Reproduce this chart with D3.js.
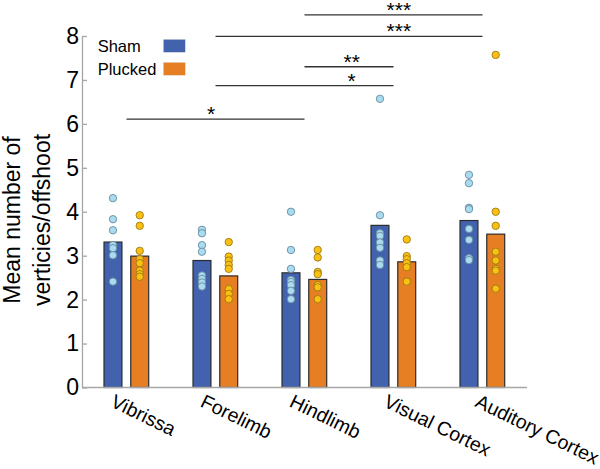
<!DOCTYPE html>
<html>
<head>
<meta charset="utf-8">
<script src="https://cdn.jsdelivr.net/npm/d3@7"></script>
<style>
  body { margin: 0; background: #fff; }
  svg { display: block; font-family: Arial, "Liberation Sans", sans-serif; }
</style>
</head>
<body>
<svg id="chart" width="600" height="469"></svg>
<script>
// categories and groups
var regions = ['Vibrissa', 'Forelimb', 'Hindlimb', 'Visual Cortex', 'Auditory Cortex'];
var groups = ['Sham', 'Plucked'];

// bar heights (group means)
var shamMeans = [3.31, 2.89, 2.61, 3.69, 3.80];
var pluckedMeans = [2.99, 2.54, 2.46, 2.86, 3.49];

// individual animals
var shamPoints = [
    [4.31, 3.83, 3.58, 3.24, 3.17, 3.01, 2.41],
    [3.59, 3.51, 3.24, 3.09, 2.55, 2.47, 2.39, 2.30],
    [4.00, 3.13, 2.70, 2.45, 2.40, 2.33, 2.20, 2.01],
    [6.57, 3.92, 3.51, 3.45, 3.30, 3.18, 2.89, 2.79],
    [4.84, 4.65, 4.09, 4.06, 3.61, 3.36, 2.94, 2.90]
];
var pluckedPoints = [
    [3.92, 3.68, 3.11, 2.92, 2.83, 2.66, 2.58, 2.52],
    [3.31, 2.98, 2.89, 2.79, 2.70, 2.24, 2.13, 2.01],
    [3.13, 2.96, 2.63, 2.58, 2.33, 2.28, 2.01],
    [3.37, 2.99, 2.92, 2.83, 2.74, 2.41],
    [7.57, 4.00, 3.68, 3.09, 2.89, 2.70, 2.66, 2.25]
];

// significance brackets: from / to region, star label, height in y units, label position (region index)
var comparisons = [
    { from: 2, to: 4, label: '***', level: 8.48, at: 3.06 },
    { from: 1, to: 4, label: '***', level: 7.99, at: 3.06 },
    { from: 2, to: 3, label: '**',  level: 7.30, at: 2.53 },
    { from: 1, to: 3, label: '*',   level: 6.87, at: 2.53 },
    { from: 0, to: 2, label: '*',   level: 6.11, at: 0.95 }
];

var yTicks = [0, 1, 2, 3, 4, 5, 6, 7, 8];

var colors = { Sham: '#4262ae', Plucked: '#e67f24' };
var dotColors = { Sham: '#a9dcf1', Plucked: '#fcc013' };
var dotStroke = { Sham: '#6a8a9c', Plucked: '#9a7a10' };

var svg = d3.select('#chart');

var x = d3.scaleBand().domain(regions).range([82, 527]);
var xSub = d3.scaleBand().domain(groups).range([22, 66.7]).paddingInner(0.33);
var y = d3.scaleLinear().domain([0, 8]).range([387.5, 36]);

function center(i) {
    return x(regions[0]) + x.step() * (i + 0.5);
}

// y axis, ticks pointing inward
var yAxis = svg.append('g')
    .attr('transform', 'translate(82,0)')
    .call(d3.axisLeft(y).tickValues(yTicks).tickSizeInner(-5).tickSizeOuter(0).tickPadding(3));
yAxis.select('.domain').attr('stroke', '#a6a6a6').attr('stroke-width', 1.3);
yAxis.selectAll('.tick line').attr('stroke', '#a6a6a6').attr('stroke-width', 1.3);
yAxis.selectAll('.tick text')
    .attr('font-size', 23)
    .attr('font-family', 'Arial, "Liberation Sans", sans-serif')
    .attr('fill', '#000');

// y title
var yTitle = svg.append('text')
    .attr('transform', 'translate(0,220) rotate(-90)')
    .attr('text-anchor', 'middle')
    .attr('font-size', 23);
yTitle.append('tspan').attr('x', 0).attr('y', 19.5).text('Mean number of');
yTitle.append('tspan').attr('x', 0).attr('y', 50).text('verticies/offshoot');

// bars
var barData = [];
regions.forEach(function(r, i) {
    barData.push({ region: r, group: 'Sham', value: shamMeans[i], points: shamPoints[i] });
    barData.push({ region: r, group: 'Plucked', value: pluckedMeans[i], points: pluckedPoints[i] });
});

svg.append('g').selectAll('rect')
    .data(barData)
    .enter()
    .append('rect')
    .attr('x', function(d) { return x(d.region) + xSub(d.group); })
    .attr('y', function(d) { return y(d.value); })
    .attr('width', xSub.bandwidth())
    .attr('height', function(d) { return y(0) - y(d.value); })
    .style('fill', function(d) { return colors[d.group]; })
    .style('stroke', '#2b2b2b')
    .style('stroke-width', '1.2px');

// x baseline
svg.append('line')
    .attr('x1', 82).attr('x2', 527)
    .attr('y1', y(0)).attr('y2', y(0))
    .style('stroke', '#a6a6a6')
    .style('stroke-width', 1.5);

// dots on top of bars
var dotGroups = svg.append('g').selectAll('g')
    .data(barData)
    .enter()
    .append('g')
    .attr('transform', function(d) {
        return 'translate(' + (x(d.region) + xSub(d.group) + xSub.bandwidth() / 2) + ',0)';
    });

dotGroups.selectAll('circle')
    .data(function(d) { return d.points.map(function(v) { return { v: v, group: d.group }; }); })
    .enter()
    .append('circle')
    .attr('cx', 0)
    .attr('cy', function(d) { return y(d.v); })
    .attr('r', 3.7)
    .style('fill', function(d) { return dotColors[d.group]; })
    .style('stroke', function(d) { return dotStroke[d.group]; })
    .style('stroke-width', '0.9px');

// category labels, rotated; longer labels sit a little further right
var xLabels = svg.append('g').selectAll('text')
    .data(regions)
    .enter()
    .append('text')
    .attr('font-size', 19.5)
    .text(function(d) { return d; });

xLabels.attr('transform', function(d, i) {
    var len = this.getComputedTextLength();
    return 'translate(' + (center(i) - 26 + 0.13 * len) + ',406) rotate(26)';
});

// significance brackets
var sig = svg.append('g').selectAll('g')
    .data(comparisons)
    .enter()
    .append('g');

sig.append('line')
    .attr('x1', function(d) { return center(d.from); })
    .attr('x2', function(d) { return center(d.to); })
    .attr('y1', function(d) { return y(d.level); })
    .attr('y2', function(d) { return y(d.level); })
    .style('stroke', '#333')
    .style('stroke-width', 1.3);

sig.append('text')
    .attr('x', function(d) { return center(d.at); })
    .attr('y', function(d) { return y(d.level) + 2; })
    .attr('text-anchor', 'middle')
    .attr('font-size', 21)
    .text(function(d) { return d.label; });

// legend
var legend = svg.append('g').selectAll('g')
    .data(groups)
    .enter()
    .append('g')
    .attr('transform', function(d, i) { return 'translate(0,' + (i * 23) + ')'; });

legend.append('text')
    .attr('x', 97.7)
    .attr('y', 51.7)
    .attr('font-size', 16.5)
    .text(function(d) { return d; });

legend.append('rect')
    .attr('x', 163.3)
    .attr('y', 39.3)
    .attr('width', 22)
    .attr('height', 13)
    .style('fill', function(d) { return colors[d]; })
    .style('stroke', '#ddd')
    .style('stroke-width', 0.5);
</script>
</body>
</html>
